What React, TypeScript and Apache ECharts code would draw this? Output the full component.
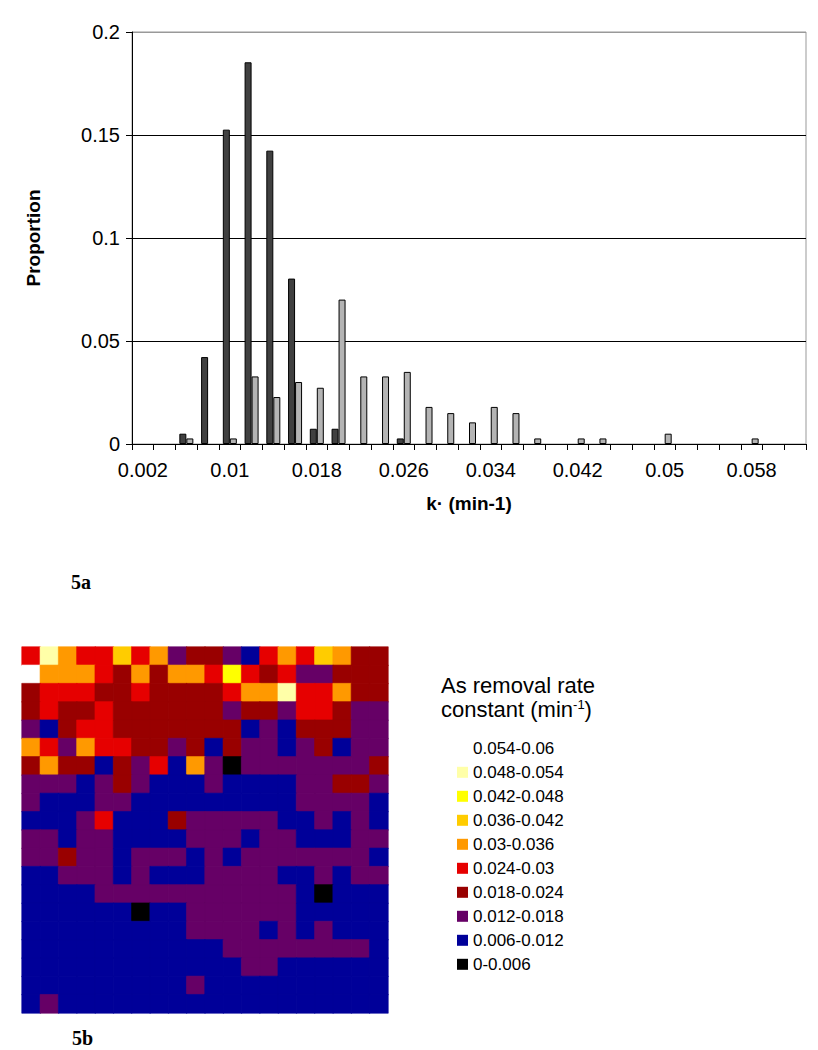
import React, { useEffect, useRef } from 'react';
import * as echarts from 'echarts';

// ---------- 5a: histogram of k' ----------
const kCategories = [
  '0.002', '0.004', '0.006', '0.008', '0.01', '0.012', '0.014', '0.016', '0.018', '0.02',
  '0.022', '0.024', '0.026', '0.028', '0.03', '0.032', '0.034', '0.036', '0.038', '0.04',
  '0.042', '0.044', '0.046', '0.048', '0.05', '0.052', '0.054', '0.056', '0.058', '0.06', '0.062',
];
const darkProportion = [
  0, 0, 0.005, 0.0422, 0.1526, 0.1853, 0.1424, 0.0803, 0.0074, 0.0074,
  0, 0, 0.0027, 0, 0, 0, 0, 0, 0, 0,
  0, 0, 0, 0, 0, 0, 0, 0, 0, 0, 0,
];
const lightProportion = [
  0, 0, 0.0027, 0, 0.0027, 0.0328, 0.0228, 0.0301, 0.0273, 0.0701,
  0.0328, 0.0328, 0.035, 0.018, 0.015, 0.0105, 0.018, 0.015, 0.0027, 0,
  0.0027, 0.0027, 0, 0, 0.005, 0, 0, 0, 0.0027, 0, 0,
];
const yMin = 0;
const yMax = 0.2;
const yStep = 0.05;

// ---------- 5b: map of removal-rate classes ----------
const rateClassLabels = [
  '0-0.006', '0.006-0.012', '0.012-0.018', '0.018-0.024', '0.024-0.03',
  '0.03-0.036', '0.036-0.042', '0.042-0.048', '0.048-0.054', '0.054-0.06',
];
const rateClassColors = [
  '#000000', '#000099', '#660066', '#990000', '#E60000',
  '#FF9900', '#FFCC00', '#FFFF00', '#FFFFA8', '#FFFFFF',
];
// class index per cell (0 = 0-0.006 ... 9 = 0.054-0.06), row 0 at top
const mapRows = [
  [4, 8, 5, 4, 4, 6, 4, 5, 2, 3, 3, 2, 1, 4, 5, 4, 6, 5, 3, 3],
  [9, 5, 5, 5, 4, 3, 5, 3, 5, 5, 4, 7, 4, 3, 4, 2, 2, 3, 3, 3],
  [3, 4, 4, 4, 3, 3, 4, 3, 3, 3, 3, 4, 5, 5, 8, 4, 4, 5, 3, 3],
  [3, 4, 3, 3, 4, 3, 3, 3, 3, 3, 3, 2, 3, 3, 2, 4, 4, 3, 2, 2],
  [2, 1, 3, 4, 4, 3, 3, 3, 3, 3, 3, 3, 1, 2, 1, 3, 3, 3, 2, 2],
  [5, 4, 2, 5, 4, 4, 3, 3, 2, 3, 1, 3, 2, 2, 1, 2, 3, 1, 2, 2],
  [3, 5, 3, 3, 1, 3, 2, 4, 1, 5, 2, 0, 2, 2, 2, 2, 2, 2, 2, 3],
  [2, 2, 2, 1, 2, 3, 2, 1, 1, 1, 2, 1, 1, 1, 1, 2, 2, 3, 3, 2],
  [2, 1, 1, 1, 2, 2, 1, 1, 1, 1, 1, 1, 1, 1, 1, 2, 2, 2, 2, 1],
  [1, 1, 1, 2, 4, 1, 1, 1, 3, 2, 2, 2, 2, 2, 1, 1, 2, 1, 2, 1],
  [2, 2, 1, 2, 2, 1, 1, 1, 1, 2, 2, 2, 1, 2, 2, 1, 1, 1, 2, 2],
  [2, 2, 3, 2, 2, 1, 2, 2, 2, 1, 2, 1, 2, 2, 2, 2, 2, 2, 2, 1],
  [1, 1, 2, 2, 2, 1, 2, 1, 1, 1, 2, 2, 2, 2, 1, 1, 2, 1, 2, 2],
  [1, 1, 1, 1, 2, 2, 2, 2, 2, 2, 2, 2, 2, 2, 2, 1, 0, 1, 1, 1],
  [1, 1, 1, 1, 1, 1, 0, 1, 1, 2, 2, 2, 2, 2, 2, 1, 1, 1, 1, 1],
  [1, 1, 1, 1, 1, 1, 1, 1, 1, 2, 2, 2, 2, 1, 2, 1, 2, 1, 1, 1],
  [1, 1, 1, 1, 1, 1, 1, 1, 1, 1, 1, 2, 2, 2, 2, 2, 2, 2, 2, 1],
  [1, 1, 1, 1, 1, 1, 1, 1, 1, 1, 1, 1, 2, 2, 1, 1, 1, 1, 1, 1],
  [1, 1, 1, 1, 1, 1, 1, 1, 1, 2, 1, 1, 1, 1, 1, 1, 1, 1, 1, 1],
  [1, 2, 1, 1, 1, 1, 1, 1, 1, 1, 1, 1, 1, 1, 1, 1, 1, 1, 1, 1],
];

const FONT = 'Liberation Sans, Arial, sans-serif';
const SERIF = 'Liberation Serif, Times New Roman, serif';

export default function App() {
  const ref = useRef<HTMLDivElement>(null);

  useEffect(() => {
    if (!ref.current) return;
    const chart = echarts.init(ref.current, undefined, { renderer: 'svg' });

    const colIds = mapRows[0].map((_, i) => String(i));
    const rowIds = mapRows.map((_, i) => String(i));
    const cells: any[] = [];
    mapRows.forEach((row, r) =>
      row.forEach((v, c) =>
        cells.push({ value: [c, r, v], itemStyle: { borderColor: rateClassColors[v], borderWidth: 0.6 } })
      )
    );
    // zero-height bars are not drawn in the reference
    const barData = (arr: number[]) => arr.map((v) => (v === 0 ? null : v));

    const legendGraphics: any[] = [];
    const legendOrder = rateClassLabels.map((_, i) => i).reverse();
    legendOrder.forEach((cls, k) => {
      const cy = 748.3 + 24 * k;
      legendGraphics.push({
        type: 'rect',
        shape: { x: 457, y: cy - 5.5, width: 11, height: 11 },
        style: { fill: rateClassColors[cls] },
        silent: true,
      });
      legendGraphics.push({
        type: 'text',
        x: 473,
        y: cy,
        style: {
          text: rateClassLabels[cls],
          fontSize: 17,
          fontFamily: FONT,
          fill: '#000',
          align: 'left',
          verticalAlign: 'middle',
        },
        silent: true,
      });
    });

    const option: any = {
      animation: false,
      backgroundColor: '#fff',
      textStyle: { fontFamily: FONT },
      grid: [
        { left: 132, top: 32, width: 674, height: 412, show: true, borderColor: '#999', borderWidth: 1, backgroundColor: 'transparent' },
        { left: 22, top: 647, width: 366, height: 366 },
      ],
      xAxis: [
        {
          type: 'category',
          gridIndex: 0,
          data: kCategories,
          axisLine: { show: true, lineStyle: { color: '#000', width: 1 } },
          axisTick: { show: true, interval: 0, length: 6, lineStyle: { color: '#000' } },
          axisLabel: { interval: 3, fontSize: 20, color: '#000', fontFamily: FONT, margin: 16 },
          splitLine: { show: false },
          name: 'k\u00b7 (min-1)',
          nameLocation: 'middle',
          nameGap: 50,
          nameTextStyle: { fontSize: 19, fontWeight: 'bold', color: '#000', fontFamily: FONT },
        },
        { type: 'category', gridIndex: 1, data: colIds, show: false },
      ],
      yAxis: [
        {
          type: 'value',
          gridIndex: 0,
          min: yMin,
          max: yMax,
          interval: yStep,
          axisLine: { show: true, lineStyle: { color: '#000', width: 1 } },
          axisTick: { show: true, length: 6, lineStyle: { color: '#000' } },
          axisLabel: { fontSize: 20, color: '#000', fontFamily: FONT, margin: 12 },
          splitLine: { show: true, lineStyle: { color: ['#000', '#000', '#000', '#000', '#999'], width: 1 } },
          name: 'Proportion',
          nameLocation: 'middle',
          nameGap: 89,
          nameTextStyle: { fontSize: 19, fontWeight: 'bold', color: '#000', fontFamily: FONT },
        },
        { type: 'category', gridIndex: 1, data: rowIds, inverse: true, show: false },
      ],
      visualMap: {
        type: 'piecewise',
        show: false,
        seriesIndex: 2,
        dimension: 2,
        pieces: rateClassColors.map((c, i) => ({ value: i, color: c, label: rateClassLabels[i] })),
      },
      series: [
        {
          type: 'bar',
          xAxisIndex: 0,
          yAxisIndex: 0,
          data: barData(darkProportion),
          barWidth: 7,
          barGap: '0%',
          itemStyle: { color: '#404040', borderColor: '#000', borderWidth: 1 },
          silent: true,
        },
        {
          type: 'bar',
          xAxisIndex: 0,
          yAxisIndex: 0,
          data: barData(lightProportion),
          barWidth: 7,
          barGap: '0%',
          itemStyle: { color: '#B4B4B4', borderColor: '#000', borderWidth: 1 },
          silent: true,
        },
        {
          type: 'heatmap',
          xAxisIndex: 1,
          yAxisIndex: 1,
          data: cells,
          emphasis: { disabled: true },
          silent: true,
        },
      ],
      graphic: [
        {
          type: 'text',
          x: 71,
          y: 581.5,
          style: { text: '5a', fontSize: 20, fontWeight: 'bold', fontFamily: SERIF, fill: '#000', align: 'left', verticalAlign: 'middle' },
          silent: true,
        },
        {
          type: 'text',
          x: 72,
          y: 1038,
          style: { text: '5b', fontSize: 20, fontWeight: 'bold', fontFamily: SERIF, fill: '#000', align: 'left', verticalAlign: 'middle' },
          silent: true,
        },
        {
          type: 'text',
          x: 441,
          y: 685,
          style: { text: 'As removal rate', fontSize: 22, fontFamily: FONT, fill: '#000', align: 'left', verticalAlign: 'middle' },
          silent: true,
        },
        {
          type: 'text',
          x: 441,
          y: 709,
          style: {
            text: '{a|constant (min}{s|-1}{a|)}',
            align: 'left',
            verticalAlign: 'middle',
            rich: {
              a: { fontSize: 22, fontFamily: FONT, fill: '#000' },
              s: { fontSize: 13, fontFamily: FONT, fill: '#000', verticalAlign: 'top' },
            },
          },
          silent: true,
        },
        ...legendGraphics,
      ],
    };

    chart.setOption(option);
    return () => chart.dispose();
  }, []);

  return <div ref={ref} style={{ position: 'absolute', left: 0, top: 0, width: 818, height: 1050 }} />;
}
